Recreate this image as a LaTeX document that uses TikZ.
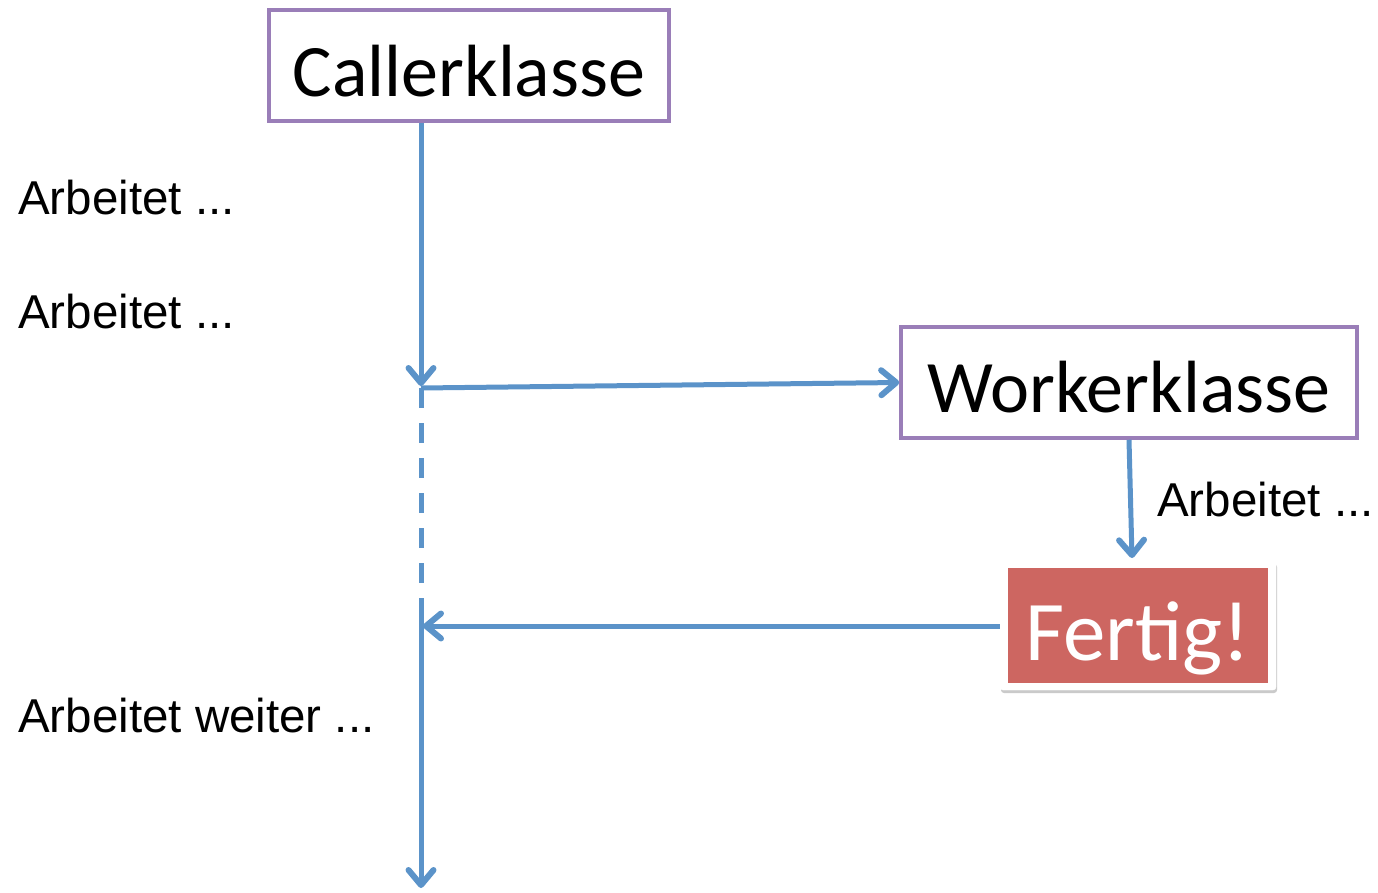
\documentclass[tikz,border=0pt]{standalone}
\usepackage{fontspec}
\setmainfont{Liberation Sans}
\newfontfamily\calib{Carlito}
\usetikzlibrary{arrows.meta,shadows}
\definecolor{boxpurple}{HTML}{9A7EB8}
\definecolor{lineblue}{HTML}{5B93C9}
\definecolor{fertigred}{HTML}{CD6661}
\begin{document}
\begin{tikzpicture}[x=1pt,y=-1pt,
  classbox/.style={draw=boxpurple,line width=3.5pt,fill=white,inner sep=0pt,text depth=0pt,font=\calib\fontsize{74}{80}\selectfont},
  flow/.style={draw=lineblue,line width=5pt},
  tip/.style={-{Straight Barb[length=15pt,width=25pt,line width=6pt 0 0,round]}},
  note/.style={anchor=base west,inner sep=0pt,font=\fontsize{47.5}{52}\selectfont}]
\useasboundingbox (0,0) rectangle (1378,893);
\node[classbox,minimum width=400pt,minimum height=111pt,text height=63pt] (caller) at (469,65.5) {Callerklasse};
\node[classbox,minimum width=456pt,minimum height=111pt,text height=59pt] (worker) at (1129,382.5) {Workerklasse};
\node[draw=white,fill=white,rounded corners=3pt,minimum width=276pt,minimum height=129pt,
      drop shadow={shadow xshift=1pt,shadow yshift=-3pt,fill=black!35,opacity=0.6}] (fertigouter) at (1138,625.5) {};
\node[fill=fertigred,text=white,minimum width=260pt,minimum height=115pt,inner sep=0pt,text height=69pt,text depth=0pt,
      font=\calib\fontsize{85}{90}\selectfont] (fertig) at (1138,625.5) {Fertig!};
\coordinate (c1) at (421,386);
\coordinate (c2) at (421,388);
\coordinate (c3) at (421,607);
\coordinate (c4) at (421,888);
\coordinate (r1) at (423,626);
\coordinate (w1) at (1132,558);
\draw[flow,tip] (caller.south -| c1) -- (c1);
\draw[flow,tip] (c2) -- ([yshift=0pt]worker.west);
\draw[flow,dash pattern=on 20pt off 15pt] (c2) -- (c3);
\draw[flow,tip] (c3) -- (c4);
\draw[flow,tip] (worker.south) -- (w1);
\draw[flow,tip] (fertigouter.west |- r1) -- (r1);
\node[note] (a1) at (18,215) {Arbeitet ...};
\node[note] (a2) at (18,328) {Arbeitet ...};
\node[note] (a3) at (1157,516) {Arbeitet ...};
\node[note] (a4) at (18,732) {Arbeitet weiter ...};
\end{tikzpicture}
\end{document}
